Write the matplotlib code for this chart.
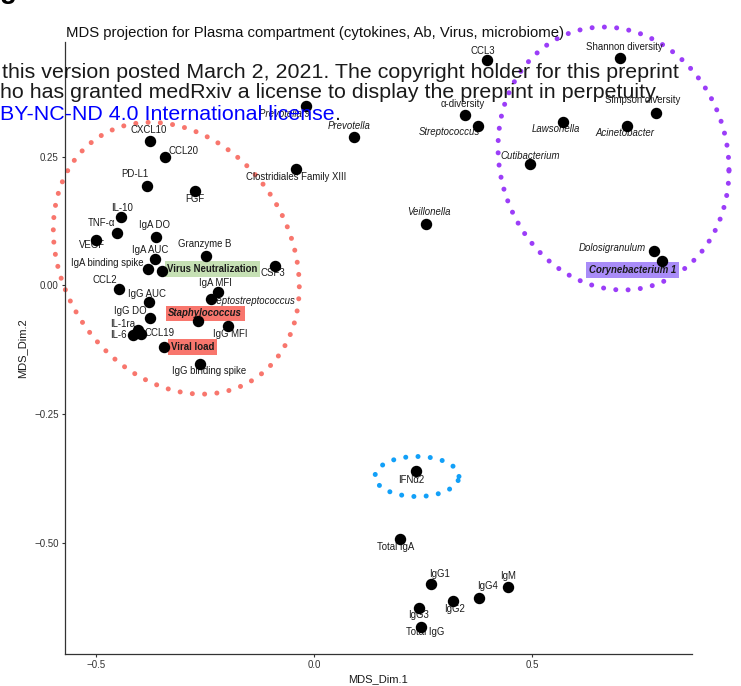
import numpy as np
import matplotlib
matplotlib.use("Agg")
import matplotlib.pyplot as plt

plt.rcParams["font.family"] = ["Liberation Sans", "DejaVu Sans"]

# MDS coordinates
labels = [
    "Prevotella 9", "Prevotella", "Clostridiales Family XIII", "CXCL10", "CCL20",
    "PD-L1", "FGF", "IL-10", "TNF-α", "VEGF", "IgA DO", "Granzyme B", "IgA AUC",
    "IgA binding spike", "Virus Neutralization", "CSF3", "CCL2", "IgA MFI",
    "Peptostreptococcus", "IgG AUC", "IgG DO", "Staphylococcus", "IgG MFI",
    "IL-1ra", "IL-6", "CCL19", "Viral load", "IgG binding spike",
    "CCL3", "α-diversity", "Streptococcus", "Shannon diversity", "Lawsonella",
    "Simpson diversity", "Acinetobacter", "Cutibacterium", "Veillonella",
    "Dolosigranulum", "Corynebacterium 1",
    "IFNα2", "Total IgA", "IgG1", "IgM", "IgG4", "IgG2", "IgG3", "Total IgG",
]
dim1 = [
    -0.019, 0.092, -0.041, -0.376, -0.341,
    -0.383, -0.273, -0.441, -0.452, -0.500, -0.362, -0.247, -0.364,
    -0.380, -0.347, -0.089, -0.447, -0.221,
    -0.237, -0.377, -0.376, -0.265, -0.198,
    -0.404, -0.414, -0.396, -0.343, -0.260,
    0.396, 0.346, 0.376, 0.702, 0.570,
    0.783, 0.717, 0.494, 0.257,
    0.778, 0.798,
    0.233, 0.197, 0.268, 0.444, 0.378, 0.319, 0.241, 0.246,
]
dim2 = [
    0.348, 0.289, 0.225, 0.281, 0.249,
    0.193, 0.184, 0.133, 0.102, 0.088, 0.094, 0.057, 0.052,
    0.032, 0.028, 0.037, -0.008, -0.013,
    -0.027, -0.032, -0.064, -0.070, -0.079,
    -0.087, -0.096, -0.095, -0.120, -0.153,
    0.438, 0.331, 0.309, 0.442, 0.318,
    0.334, 0.310, 0.235, 0.119,
    0.067, 0.047,
    -0.360, -0.493, -0.580, -0.586, -0.608, -0.613, -0.627, -0.663,
]

# label placement (pixel offsets, like ggrepel put them)
offsets = [
    (-21, -8), (-5, 11), (0, -8), (-1, 11), (18, 6),
    (-12, 12), (0, -8), (1, 9), (-15, 10), (-4, -5), (-1, 12), (-1, 12), (-5, 9),
    (-41, 6), (50, 2), (-2, -7), (-14, 9), (-2, 9),
    (43, -2), (-2, 8), (-20, 7), (7, 8), (3, -8),
    (-15, 6), (-15, 0), (18, 1), (28, 0), (9, -7),
    (-4, 9), (-2, 11), (-29, -6), (4, 11), (-7, -7),
    (-13, 13), (-2, -7), (1, 8), (3, 12),
    (-41, 3), (-30, -9),
    (-4, -9), (-4, -8), (9, 10), (0, 11), (9, 12), (1, -8), (-1, -7), (4, -5),
]

italic = {"Prevotella 9", "Prevotella", "Peptostreptococcus", "Streptococcus",
          "Lawsonella", "Acinetobacter", "Cutibacterium", "Veillonella",
          "Dolosigranulum", "Staphylococcus", "Corynebacterium 1"}
boxed = {"Virus Neutralization": "#c6e0b4", "Staphylococcus": "#f8766d",
         "Viral load": "#f8766d", "Corynebacterium 1": "#a98cf8"}

# highlight ellipses: center x, center y, half width, half height, tilt, colour
ellipses = [
    (-0.3154, 0.0526, 0.2817, 0.2640, -0.21, "#f8766d"),
    (0.686, 0.2463, 0.2645, 0.2554, -0.085, "#9b3df8"),
    (0.2359, -0.3714, 0.0962, 0.0389, 0.0, "#12a0f8"),
]

fig = plt.figure(figsize=(7.41, 6.86), dpi=100)
ax = fig.add_axes([65 / 741, 1 - 654 / 686, (691.7 - 65) / 741, (654 - 42) / 686])

t = np.linspace(0, 2 * np.pi, 600)
for cx, cy, hx, hy, r, col in ellipses:
    ex = cx + hx * np.cos(t)
    ey = cy + hy * (r * np.cos(t) + np.sqrt(1 - r ** 2) * np.sin(t))
    ax.plot(ex, ey, color=col, lw=3.6, linestyle=(0, (0.01, 2.45)),
            dash_capstyle="round", clip_on=False, zorder=1)

ax.scatter(dim1, dim2, s=52, color="black", zorder=3, clip_on=False)

for name, x, y, (dx, dy) in zip(labels, dim1, dim2, offsets):
    style = "italic" if name in italic else "normal"
    weight = "bold" if name in boxed else "normal"
    bbox = None
    if name in boxed:
        bbox = dict(boxstyle="square,pad=0.28", fc=boxed[name], ec="none")
    ax.annotate(name, (x, y), xytext=(dx, dy), textcoords="offset pixels",
                ha="center", va="center", fontsize=6.9, color="#1a1a1a",
                fontstyle=style, fontweight=weight, bbox=bbox, zorder=2,
                annotation_clip=False)

ax.set_xlim(-0.5703, 0.8651)
ax.set_ylim(-0.7162, 0.4726)
ax.set_xticks([-0.5, 0.0, 0.5])
ax.set_xticklabels(["−0.5", "0.0", "0.5"])
ax.set_yticks([-0.5, -0.25, 0.0, 0.25])
ax.set_yticklabels(["−0.50", "−0.25", "0.00", "0.25"])
ax.tick_params(length=2.5, width=0.8, color="#333333", labelcolor="#333333",
               labelsize=7.0, pad=2)
for side in ["top", "right"]:
    ax.spines[side].set_visible(False)
for side in ["left", "bottom"]:
    ax.spines[side].set_color("#333333")
    ax.spines[side].set_linewidth(0.9)

ax.set_xlabel("MDS_Dim.1", fontsize=8, color="#1a1a1a", labelpad=3)
ax.set_ylabel("MDS_Dim.2", fontsize=8, color="#1a1a1a", labelpad=5)

fig.text(66 / 741, 1 - 33 / 686,
         "MDS projection for Plasma compartment (cytokines, Ab, Virus, microbiome)",
         fontsize=10.7, va="center", ha="left", color="#111111")

# panel letter, mostly cut off at the top edge
fig.text(0.0, 1 + 2 / 686, "g", fontsize=20, fontweight="bold", va="baseline")

# medRxiv watermark overlay
fig.text(2 / 741, 1 - 72 / 686,
         "this version posted March 2, 2021. The copyright holder for this preprint",
         fontsize=15.4, va="center", ha="left", color="#1a1a1a", zorder=10)
fig.text(0 / 741, 1 - 93 / 686,
         "ho has granted medRxiv a license to display the preprint in perpetuity.",
         fontsize=15.4, va="center", ha="left", color="#1a1a1a", zorder=10)
fig.text(0 / 741, 1 - 114 / 686, "BY-NC-ND 4.0 International license",
         fontsize=15.4, va="center", ha="left", color="#0000ff", zorder=10)
fig.text(335 / 741, 1 - 114 / 686, ".", fontsize=15.4, va="center", ha="left",
         color="#1a1a1a", zorder=10)

fig.savefig("out.png", dpi=100)
